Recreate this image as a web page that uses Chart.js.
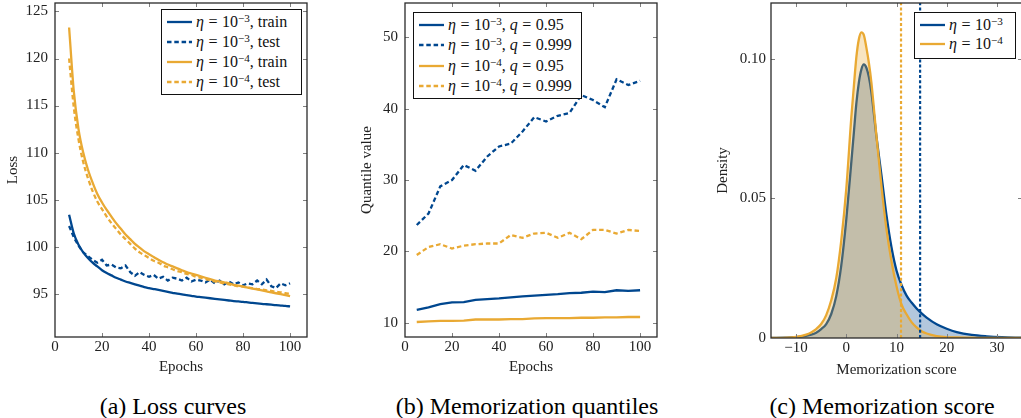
<!DOCTYPE html>
<html>
<head>
<meta charset="utf-8">
<script src="https://cdn.jsdelivr.net/npm/chart.js@4.4.1/dist/chart.umd.min.js"></script>
<style>
html, body { margin:0; padding:0; background:#fff; overflow:hidden; }
body { position:relative; width:1021px; height:418px; font-family:"Liberation Serif","Tinos","Times New Roman","DejaVu Serif",serif; }
canvas { position:absolute; top:0; }
.legend { position:absolute; background:#fff; border:1px solid #111; box-sizing:border-box; padding-left:5px; font-size:16px; color:#111; }
.legend .row { display:flex; align-items:center; white-space:nowrap; }
.legend svg { margin-right:4px; flex:none; }
.legend .eq { margin:0 0.28em; }
.legend sup { font-size:0.7em; position:relative; top:-0.45em; vertical-align:baseline; line-height:0; }
.caption { position:absolute; top:394px; width:300px; text-align:center; font-size:24px; line-height:24px; color:#000; }
</style>
</head>
<body>
<canvas id="lossChart" width="340" height="380" style="left:0px"></canvas>
<canvas id="quantChart" width="340" height="380" style="left:350px"></canvas>
<canvas id="scoreChart" width="333" height="380" style="left:690px"></canvas>
<div class="caption" style="left:23px">(a) Loss curves</div>
<div class="caption" style="left:377px">(b) Memorization quantiles</div>
<div class="caption" style="left:732px">(c) Memorization score</div>
<script>
/* ---------------------------
   Data
   --------------------------- */
// (a) loss curves, read every 2 epochs
const lossEpochs = [6,8,10,12,14,16,18,20,22,24,26,28,30,32,34,36,38,40,42,44,46,48,50,52,
  54,56,58,60,62,64,66,68,70,72,74,76,78,80,82,84,86,88,90,92,94,96,98,100];
const lossTrainE3 = [103.4,101.4,100.2,99.4,98.8,98.3,97.9,97.5,97.2,96.95,96.7,96.5,96.3,96.15,96.0,95.85,
  95.7,95.6,95.5,95.4,95.3,95.2,95.1,95.0,94.92,94.85,94.78,94.7,94.64,94.58,94.52,94.46,
  94.4,94.34,94.28,94.22,94.18,94.14,94.08,94.02,93.97,93.93,93.88,93.83,93.78,93.74,93.7,93.65];
const lossTestE3 = [102.2,101.0,100.1,99.4,99.0,98.6,98.3,98.6,98.0,98.1,97.8,97.7,98.0,97.3,96.9,97.3,
  97.0,96.8,97.0,96.6,96.8,96.4,96.7,96.6,96.4,96.7,96.3,96.5,96.4,96.2,96.5,96.1,
  96.4,96.0,96.3,96.0,96.2,95.9,96.1,96.0,96.4,96.0,96.5,95.8,95.6,96.1,95.9,96.1];
const lossTrainE4 = [123.3,116.5,112.5,110.0,108.2,106.8,105.6,104.7,103.9,103.2,102.5,101.9,101.3,100.8,100.3,99.9,
  99.5,99.2,98.9,98.6,98.35,98.1,97.9,97.7,97.5,97.3,97.15,97.0,96.85,96.7,96.55,96.4,
  96.3,96.2,96.1,95.95,95.85,95.75,95.65,95.55,95.45,95.35,95.25,95.15,95.05,94.95,94.85,94.75];
const lossTestE4 = [120.0,114.8,111.4,109.0,107.3,105.9,104.8,104.0,103.2,102.5,101.9,101.3,100.8,100.3,99.8,99.4,
  99.1,98.8,98.5,98.3,98.0,97.8,97.6,97.4,97.3,97.1,97.0,96.8,96.7,96.55,96.45,96.3,
  96.2,96.1,96.0,95.9,95.8,95.75,95.65,95.6,95.5,95.45,95.35,95.3,95.2,95.15,95.05,95.0];
const epochTicks = [0,20,40,60,80,100];
const lossTicks = [95,100,105,110,115,120,125];

// (b) memorization quantiles
const quantEpochs = [5,10,15,20,25,30,35,40,45,50,55,60,65,70,75,80,85,90,95,100];
const q95E3  = [11.8,12.15,12.6,12.85,12.9,13.2,13.3,13.4,13.55,13.7,13.8,13.9,14.0,14.15,14.2,14.35,14.3,14.55,14.45,14.55];
const q999E3 = [23.7,25.3,29.1,30.0,32.1,31.3,33.3,34.7,35.1,36.8,38.8,38.2,39.0,39.4,41.9,41.2,40.2,44.1,43.3,43.9];
const q95E4  = [10.1,10.2,10.25,10.25,10.3,10.45,10.45,10.45,10.5,10.5,10.6,10.65,10.65,10.65,10.7,10.7,10.75,10.75,10.8,10.8];
const q999E4 = [19.5,20.6,21.0,20.4,20.8,21.0,21.1,21.1,22.3,21.9,22.5,22.6,21.9,22.6,21.7,23.0,23.0,22.5,23.0,22.85];
const quantTicks = [10,20,30,40,50];

// (c) memorization score density
const scoreGrid = [-15,-12,-10,-8,-7,-6,-5,-4,-3,-2,-1,0,1,1.5,2,2.5,3,3.5,4,4.5,
  5,6,7,8,9,10,11,12,13,14,15,16,18,20,22,25,28,31,35];
const densityE3 = [0,0.0001,0.0003,0.0008,0.0012,0.0019,0.0032,0.0050,0.0086,0.0150,
  0.0260,0.0425,0.0630,0.0735,0.0840,0.0915,0.0962,0.0980,0.0968,0.0935,
  0.0880,0.0722,0.0583,0.0440,0.0325,0.0242,0.0190,0.0152,0.0127,0.0106,
  0.0088,0.0073,0.0049,0.0033,0.0021,0.0011,0.0006,0.0003,0.0001];
const densityE4 = [0,0.0001,0.0004,0.0012,0.0020,0.0032,0.0050,0.0082,0.0135,0.0215,
  0.0350,0.0535,0.0790,0.0900,0.1005,0.1070,0.1095,0.1085,0.1040,0.0985,
  0.0915,0.0725,0.0545,0.0390,0.0275,0.0185,0.0120,0.0085,0.0057,0.0038,
  0.0024,0.0016,0.0007,0.0003,0.0002,0.0001,0,0,0];
const cutoffE3 = 14.7;   // dotted marker lines
const cutoffE4 = 10.9;
const scoreTicks = [-10,0,10,20,30];
const densityTicks = [0,0.05,0.1];

/* ---------------------------
   Styling helpers
   --------------------------- */
const BLUE = '#00478f', GOLD = '#e9a933';
const DASH = [4.5, 2.8];
Chart.defaults.font.family = '"Liberation Serif","Tinos","Times New Roman","DejaVu Serif",serif';
Chart.defaults.font.size = 15;
Chart.defaults.color = '#222';

// pgfplots-like frame with inward ticks on all four sides
const frameTicks = {
  id: 'frameTicks',
  afterDraw(chart) {
    const {ctx, chartArea: a, scales: {x, y}} = chart;
    ctx.save();
    ctx.strokeStyle = '#808080';
    ctx.lineWidth = 1;
    ctx.beginPath();
    x.ticks.forEach(t => {
      const px = Math.round(x.getPixelForValue(t.value)) + 0.5;
      if (px <= a.left + 1 || px >= a.right - 1) return;
      ctx.moveTo(px, a.bottom); ctx.lineTo(px, a.bottom - 4);
      ctx.moveTo(px, a.top); ctx.lineTo(px, a.top + 4);
    });
    y.ticks.forEach(t => {
      const py = Math.round(y.getPixelForValue(t.value)) + 0.5;
      if (py <= a.top + 1 || py >= a.bottom - 1) return;
      ctx.moveTo(a.left, py); ctx.lineTo(a.left + 4, py);
      ctx.moveTo(a.right, py); ctx.lineTo(a.right - 4, py);
    });
    ctx.stroke();
    ctx.strokeStyle = '#2a2a2a';
    ctx.lineWidth = 1.3;
    ctx.strokeRect(a.left, a.top, a.right - a.left, a.bottom - a.top);
    ctx.restore();
  }
};

// axes with fixed sizes so the plot areas land where the reference has them
function xAxis(min, max, tickVals, title, h, titlePad, fmt) {
  return {
    type: 'linear', min, max,
    grid: { display:false, drawTicks:false }, border: { display:false },
    afterBuildTicks: s => { s.ticks = tickVals.map(v => ({ value: v })); },
    afterFit: s => { s.height = h; s.paddingLeft = 0; s.paddingRight = 0; },
    ticks: { padding: 1, maxRotation: 0, autoSkip: false, callback: fmt || (v => String(v)) },
    title: { display: true, text: title, padding: { top: 0, bottom: titlePad } }
  };
}
function yAxis(min, max, tickVals, title, w, titlePad, tickPad, fmt) {
  return {
    type: 'linear', min, max,
    grid: { display:false, drawTicks:false }, border: { display:false },
    afterBuildTicks: s => { s.ticks = tickVals.map(v => ({ value: v })); },
    afterFit: s => { s.width = w; s.paddingTop = 0; s.paddingBottom = 0; },
    ticks: { padding: tickPad, autoSkip: false, callback: fmt || (v => String(v)) },
    title: { display: true, text: title, padding: { top: titlePad, bottom: 0 } }
  };
}
function baseOptions(pad, xs, ys) {
  return {
    responsive: false, animation: false,
    layout: { padding: pad, autoPadding: false },
    plugins: { legend: { display:false }, tooltip: { enabled:false } },
    elements: { point: { radius: 0 } },
    scales: { x: xs, y: ys }
  };
}
function line(data, color, dashed, order, extra) {
  return Object.assign({ data, borderColor: color, borderWidth: 2.3, borderDash: dashed ? DASH : [],
    fill: false, order, pointRadius: 0 }, extra || {});
}

// HTML legend (needs math-style superscripts)
const eta = e => `<i>η</i><span class="eq">=</span>10<sup>−${e}</sup>`;
function htmlLegend(chart, labels, box, rowH) {
  const el = document.createElement('div');
  el.className = 'legend';
  Object.assign(el.style, box);
  labels.forEach((lab, i) => {
    const ds = chart.data.datasets[i];
    const row = document.createElement('div');
    row.className = 'row';
    row.style.height = rowH + 'px';
    row.innerHTML = `<svg width="25" height="6"><line x1="0" y1="3" x2="25" y2="3" stroke="${ds.borderColor}"
      stroke-width="2.3" stroke-dasharray="${(ds.borderDash || []).join(' ')}"/></svg><span>${lab}</span>`;
    el.appendChild(row);
  });
  document.body.appendChild(el);
}

/* ---------------------------
   (a) Loss curves
   --------------------------- */
const lossChart = new Chart(document.getElementById('lossChart'), {
  type: 'line',
  data: {
    labels: lossEpochs,
    datasets: [
      line(lossTrainE3, BLUE, false, 4, { cubicInterpolationMode: 'monotone' }),
      line(lossTestE3, BLUE, true, 3),
      line(lossTrainE4, GOLD, false, 2, { cubicInterpolationMode: 'monotone' }),
      line(lossTestE4, GOLD, true, 1, { cubicInterpolationMode: 'monotone' })
    ]
  },
  options: baseOptions({ left:0, top:3, right:33, bottom:0 },
    xAxis(0, 107.2, epochTicks, 'Epochs', 43, 4.3),
    yAxis(90.4, 125.9, lossTicks, 'Loss', 55, 4, 7)),
  plugins: [frameTicks]
});
htmlLegend(lossChart, [eta(3) + ', train', eta(3) + ', test', eta(4) + ', train', eta(4) + ', test'],
  { left:'161px', top:'9px', width:'141px', height:'86px', paddingTop:'2px' }, 20);

/* ---------------------------
   (b) Memorization quantiles
   --------------------------- */
const quantChart = new Chart(document.getElementById('quantChart'), {
  type: 'line',
  data: {
    labels: quantEpochs,
    datasets: [
      line(q95E3, BLUE, false, 4),
      line(q999E3, BLUE, true, 3),
      line(q95E4, GOLD, false, 2),
      line(q999E4, GOLD, true, 1)
    ]
  },
  options: baseOptions({ left:0, top:3, right:33, bottom:0 },
    xAxis(0, 107.2, epochTicks, 'Epochs', 43, 4.3),
    yAxis(8.0, 54.8, quantTicks, 'Quantile value', 55, 8, 7)),
  plugins: [frameTicks]
});
const qLab = q => `, <i>q</i><span class="eq">=</span>${q}`;
htmlLegend(quantChart, [eta(3) + qLab('0.95'), eta(3) + qLab('0.999'), eta(4) + qLab('0.95'), eta(4) + qLab('0.999')],
  { left:'413px', top:'12px', width:'169px', height:'87px', paddingTop:'2px' }, 20.3);

/* ---------------------------
   (c) Memorization score
   --------------------------- */
const fmtScore = v => v < 0 ? '\u2212' + Math.abs(v) : String(v);
const fmtDensity = v => v === 0 ? '0' : v.toFixed(2);
const scoreChart = new Chart(document.getElementById('scoreChart'), {
  type: 'line',
  data: {
    labels: scoreGrid,
    datasets: [
      line(densityE3, BLUE, false, 3, { cubicInterpolationMode: 'monotone', fill: 'origin', backgroundColor: 'rgba(0,71,143,0.3)' }),
      line(densityE4, GOLD, false, 2, { cubicInterpolationMode: 'monotone', fill: 'origin', backgroundColor: 'rgba(233,169,51,0.3)' }),
      line([{ x: cutoffE3, y: 0 }, { x: cutoffE3, y: 0.12 }], BLUE, false, 0, { borderDash: [3, 2.2], borderWidth: 2.2 }),
      line([{ x: cutoffE4, y: 0 }, { x: cutoffE4, y: 0.12 }], GOLD, false, 0, { borderDash: [3, 2.2], borderWidth: 2.2 })
    ]
  },
  options: baseOptions({ left:0, top:3, right:1, bottom:0 },
    xAxis(-15, 35, scoreTicks, 'Memorization score', 42, 1, fmtScore),
    yAxis(0, 0.12, densityTicks, 'Density', 81, 24, 5, fmtDensity)),
  plugins: [frameTicks]
});
htmlLegend(scoreChart, [eta(3), eta(4)],
  { left:'914px', top:'12px', width:'102px', height:'47px', paddingTop:'2px' }, 19.3);
</script>
</body>
</html>
